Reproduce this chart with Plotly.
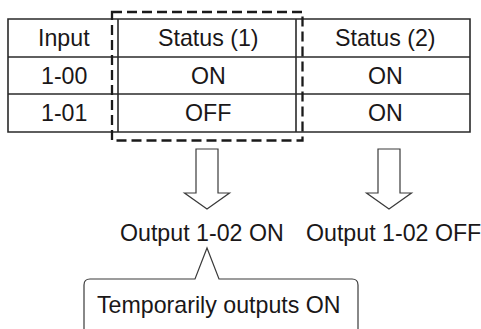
import plotly.graph_objects as go

# ---- data ----
headers = ["Input", "Status (1)", "Status (2)"]
inputs = ["1-00", "1-01"]
status1 = ["ON", "OFF"]
status2 = ["ON", "ON"]
outputs = ["Output 1-02 ON", "Output 1-02 OFF"]
note = "Temporarily outputs ON"

# ---- layout geometry (pixels) ----
W, H = 481, 329
col_edges = [8, 118, 296, 470]
row_edges = [19, 57, 94, 132]
col_centers = [64, 208, 385]
FONT = "Liberation Sans, Arial, Helvetica, sans-serif"
FS = 23.2
TXT = "#1a1718"
LINE = "#2a2a2a"

fig = go.Figure()
shapes = []
annotations = []

# table grid
shapes.append(dict(type="rect", x0=col_edges[0], x1=col_edges[-1], y0=row_edges[0], y1=row_edges[-1],
                   line=dict(color=LINE, width=1.6)))
for x in col_edges[1:-1]:
    shapes.append(dict(type="line", x0=x, x1=x, y0=row_edges[0], y1=row_edges[-1], line=dict(color=LINE, width=1.6)))
for y in row_edges[1:-1]:
    shapes.append(dict(type="line", x0=col_edges[0], x1=col_edges[-1], y0=y, y1=y, line=dict(color=LINE, width=1.6)))

# dashed highlight around Status (1)
shapes.append(dict(type="rect", x0=112, x1=302.5, y0=12, y1=140.5,
                   line=dict(color="#1a1a1a", width=2.3, dash="10px,5px")))

rows = [headers] + [[inputs[i], status1[i], status2[i]] for i in range(len(inputs))]
for r, row in enumerate(rows):
    yc = (row_edges[r] + row_edges[r + 1]) / 2
    for c, txt in enumerate(row):
        annotations.append(dict(x=col_centers[c], y=yc, text=txt, showarrow=False,
                                font=dict(family=FONT, size=FS, color=TXT), xanchor="center", yanchor="middle"))

# block arrows
def arrow_path(cx, top=149, shaft_bottom=193, tip=209, shaft_half=11, head_half=22.5):
    return (f"M{cx-shaft_half},{top} L{cx+shaft_half},{top} L{cx+shaft_half},{shaft_bottom} "
            f"L{cx+head_half},{shaft_bottom} L{cx},{tip} L{cx-head_half},{shaft_bottom} "
            f"L{cx-shaft_half},{shaft_bottom} Z")

for cx in [207, 389]:
    shapes.append(dict(type="path", path=arrow_path(cx), line=dict(color="#3a3a3a", width=1.2),
                       fillcolor="white"))

# output texts
for x, t in zip([202, 393], outputs):
    annotations.append(dict(x=x, y=233, text=t, showarrow=False,
                            font=dict(family=FONT, size=FS, color=TXT), xanchor="center", yanchor="middle"))

# callout
r = 6
callout = (f"M84,334 L84,{279+r} Q84,279 {84+r},279 L195,279 L207,248 L219,279 "
           f"L{358-r},279 Q358,279 358,{279+r} L358,334")
shapes.append(dict(type="path", path=callout, line=dict(color="#3a3a3a", width=1.2), fillcolor="white"))
annotations.append(dict(x=219, y=305, text=note, showarrow=False,
                        font=dict(family=FONT, size=FS, color=TXT), xanchor="center", yanchor="middle"))

fig.update_layout(
    width=W, height=H, margin=dict(l=0, r=0, t=0, b=0),
    paper_bgcolor="white", plot_bgcolor="white",
    xaxis=dict(range=[0, W], visible=False, fixedrange=True),
    yaxis=dict(range=[H, 0], visible=False, fixedrange=True),
    shapes=shapes, annotations=annotations, showlegend=False,
)
fig.write_html("out.html", config={"displayModeBar": False},
               post_script="document.body.style.margin='0';document.body.style.overflow='hidden';")
